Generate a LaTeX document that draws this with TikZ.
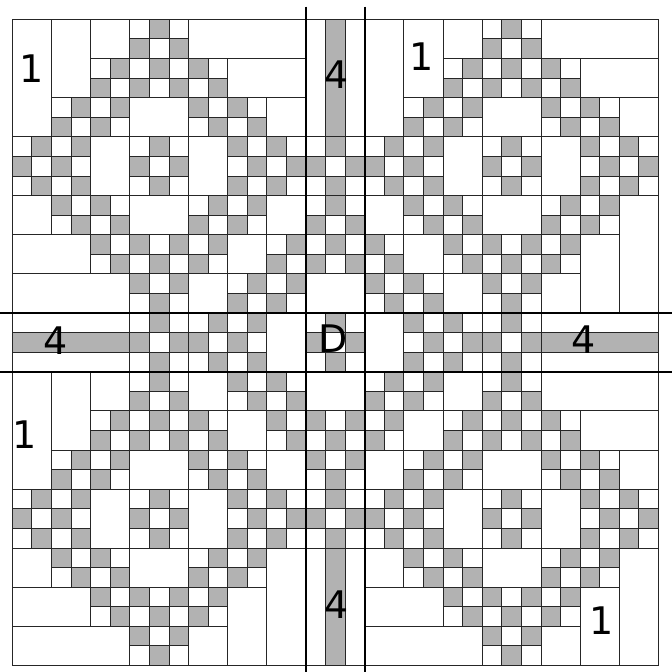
\documentclass[tikz,border=0pt]{standalone}
\usepackage{fontspec}
\setmainfont{DejaVu Sans}
\tikzset{
  gcell/.style={fill=black!30},
  cellgrid/.style={draw=black!85, line width=0.9pt},
  wrect/.style={fill=white, draw=black!85, line width=0.9pt},
  grect/.style={fill=black!30, draw=black!85, line width=0.9pt},
  axisline/.style={draw=black, line width=1.8pt},
  lbl/.style={font=\fontsize{38}{40}\selectfont, inner sep=0pt}
}
\begin{document}
\begin{tikzpicture}[x=19.58pt, y=-19.58pt]
\useasboundingbox (-0.628,-0.986) rectangle (33.641,33.332);
\fill[white] (-0.628,-0.986) rectangle (33.641,33.332);
% gray unit cells
\foreach \r/\cs in {
 0/{7,25},
 1/{6,8,24,26},
 2/{5,7,9,23,25,27},
 3/{4,6,8,10,22,24,26,28},
 4/{3,5,9,11,21,23,27,29},
 5/{2,4,10,12,20,22,28,30},
 6/{1,3,7,11,13,16,19,21,25,29,31},
 7/{0,2,6,8,12,14,15,17,18,20,24,26,30,32},
 8/{1,3,7,11,13,16,19,21,25,29,31},
 9/{2,4,10,12,16,20,22,28,30},
 10/{3,5,9,11,15,17,21,23,27,29},
 11/{4,6,8,10,14,16,18,22,24,26,28},
 12/{5,7,9,13,15,17,19,23,25,27},
 13/{6,8,12,14,18,20,24,26},
 14/{7,11,13,19,21,25},
 15/{7,10,12,16,20,22,25},
 16/{6,8,9,11,15,17,21,23,24,26},
 17/{7,10,12,16,20,22,25},
 18/{7,11,13,19,21,25},
 19/{6,8,12,14,18,20,24,26},
 20/{5,7,9,13,15,17,19,23,25,27},
 21/{4,6,8,10,14,16,18,22,24,26,28},
 22/{3,5,9,11,15,17,21,23,27,29},
 23/{2,4,10,12,16,20,22,28,30},
 24/{1,3,7,11,13,16,19,21,25,29,31},
 25/{0,2,6,8,12,14,15,17,18,20,24,26,30,32},
 26/{1,3,7,11,13,16,19,21,25,29,31},
 27/{2,4,10,12,20,22,28,30},
 28/{3,5,9,11,21,23,27,29},
 29/{4,6,8,10,22,24,26,28},
 30/{5,7,9,23,25,27},
 31/{6,8,24,26},
 32/{7,25}} {
  \foreach \c in \cs { \fill[gcell] (\c,\r) rectangle ++(1,1); }
}
% unit grid
\foreach \i in {0,...,33} {
  \draw[cellgrid] (\i,0) -- (\i,33);
  \draw[cellgrid] (0,\i) -- (33,\i);
}
% white rectangles
\foreach \c/\r/\w/\h in {
 0/0/2/6, 2/0/2/4, 4/0/2/2, 9/0/6/2, 11/2/4/2, 6/4/3/2, 13/4/2/2,
 4/6/2/3, 9/6/2/3, 0/9/2/2, 6/9/3/2, 13/9/2/2, 0/11/4/2, 11/11/2/2,
 0/13/6/2, 9/13/2/2,
 15/0/1/6, 17/0/1/6, 15/13/3/2,
 18/0/2/6, 20/0/2/4, 22/0/2/2, 27/0/6/2, 29/2/4/2, 24/4/3/2, 31/4/2/2,
 22/6/2/3, 27/6/2/3, 18/9/2/2, 24/9/3/2, 31/9/2/6, 20/11/2/2, 29/11/2/4,
 22/13/2/2, 27/13/2/2,
 0/15/6/1, 0/17/6/1, 13/15/2/3,
 27/15/6/1, 27/17/6/1, 18/15/2/3,
 0/18/2/6, 2/18/2/4, 4/18/2/2, 9/18/2/2, 11/20/2/2, 6/22/3/2, 13/22/2/2,
 4/24/2/3, 9/24/2/3, 0/27/2/2, 6/27/3/2, 13/27/2/6, 0/29/4/2, 11/29/2/4,
 0/31/6/2, 9/31/2/2,
 15/18/3/2, 15/27/1/6, 17/27/1/6,
 22/18/2/2, 27/18/6/2, 20/20/2/2, 29/20/4/2, 18/22/2/2, 24/22/3/2, 31/22/2/2,
 22/24/2/3, 27/24/2/3, 18/27/2/2, 24/27/3/2, 31/27/2/6, 18/29/4/2, 29/29/2/4,
 18/31/6/2, 27/31/2/2} {
  \draw[wrect] (\c,\r) rectangle ++(\w,\h);
}
% gray long rectangles
\foreach \c/\r/\w/\h in {16/0/1/6, 0/16/6/1, 27/16/6/1, 16/27/1/6} {
  \draw[grect] (\c,\r) rectangle ++(\w,\h);
}
% thick axis lines
\draw[axisline] (15,-0.643) -- (15,33.4);
\draw[axisline] (18,-0.643) -- (18,33.4);
\draw[axisline] (-0.7,15) -- (33.7,15);
\draw[axisline] (-0.7,18) -- (33.7,18);
% labels
\node[lbl] (l1tl) at (0.98,2.51) {1};
\node[lbl] (l4t) at (16.56,2.82) {4};
\node[lbl] (l1tr) at (20.90,1.93) {1};
\node[lbl] (l4l) at (2.23,16.40) {4};
\node[lbl] (ld) at (16.40,16.30) {D};
\node[lbl] (l4r) at (29.15,16.38) {4};
\node[lbl] (l1bl) at (0.65,21.23) {1};
\node[lbl] (l4b) at (16.56,29.89) {4};
\node[lbl] (l1br) at (30.09,30.70) {1};
\end{tikzpicture}
\end{document}
